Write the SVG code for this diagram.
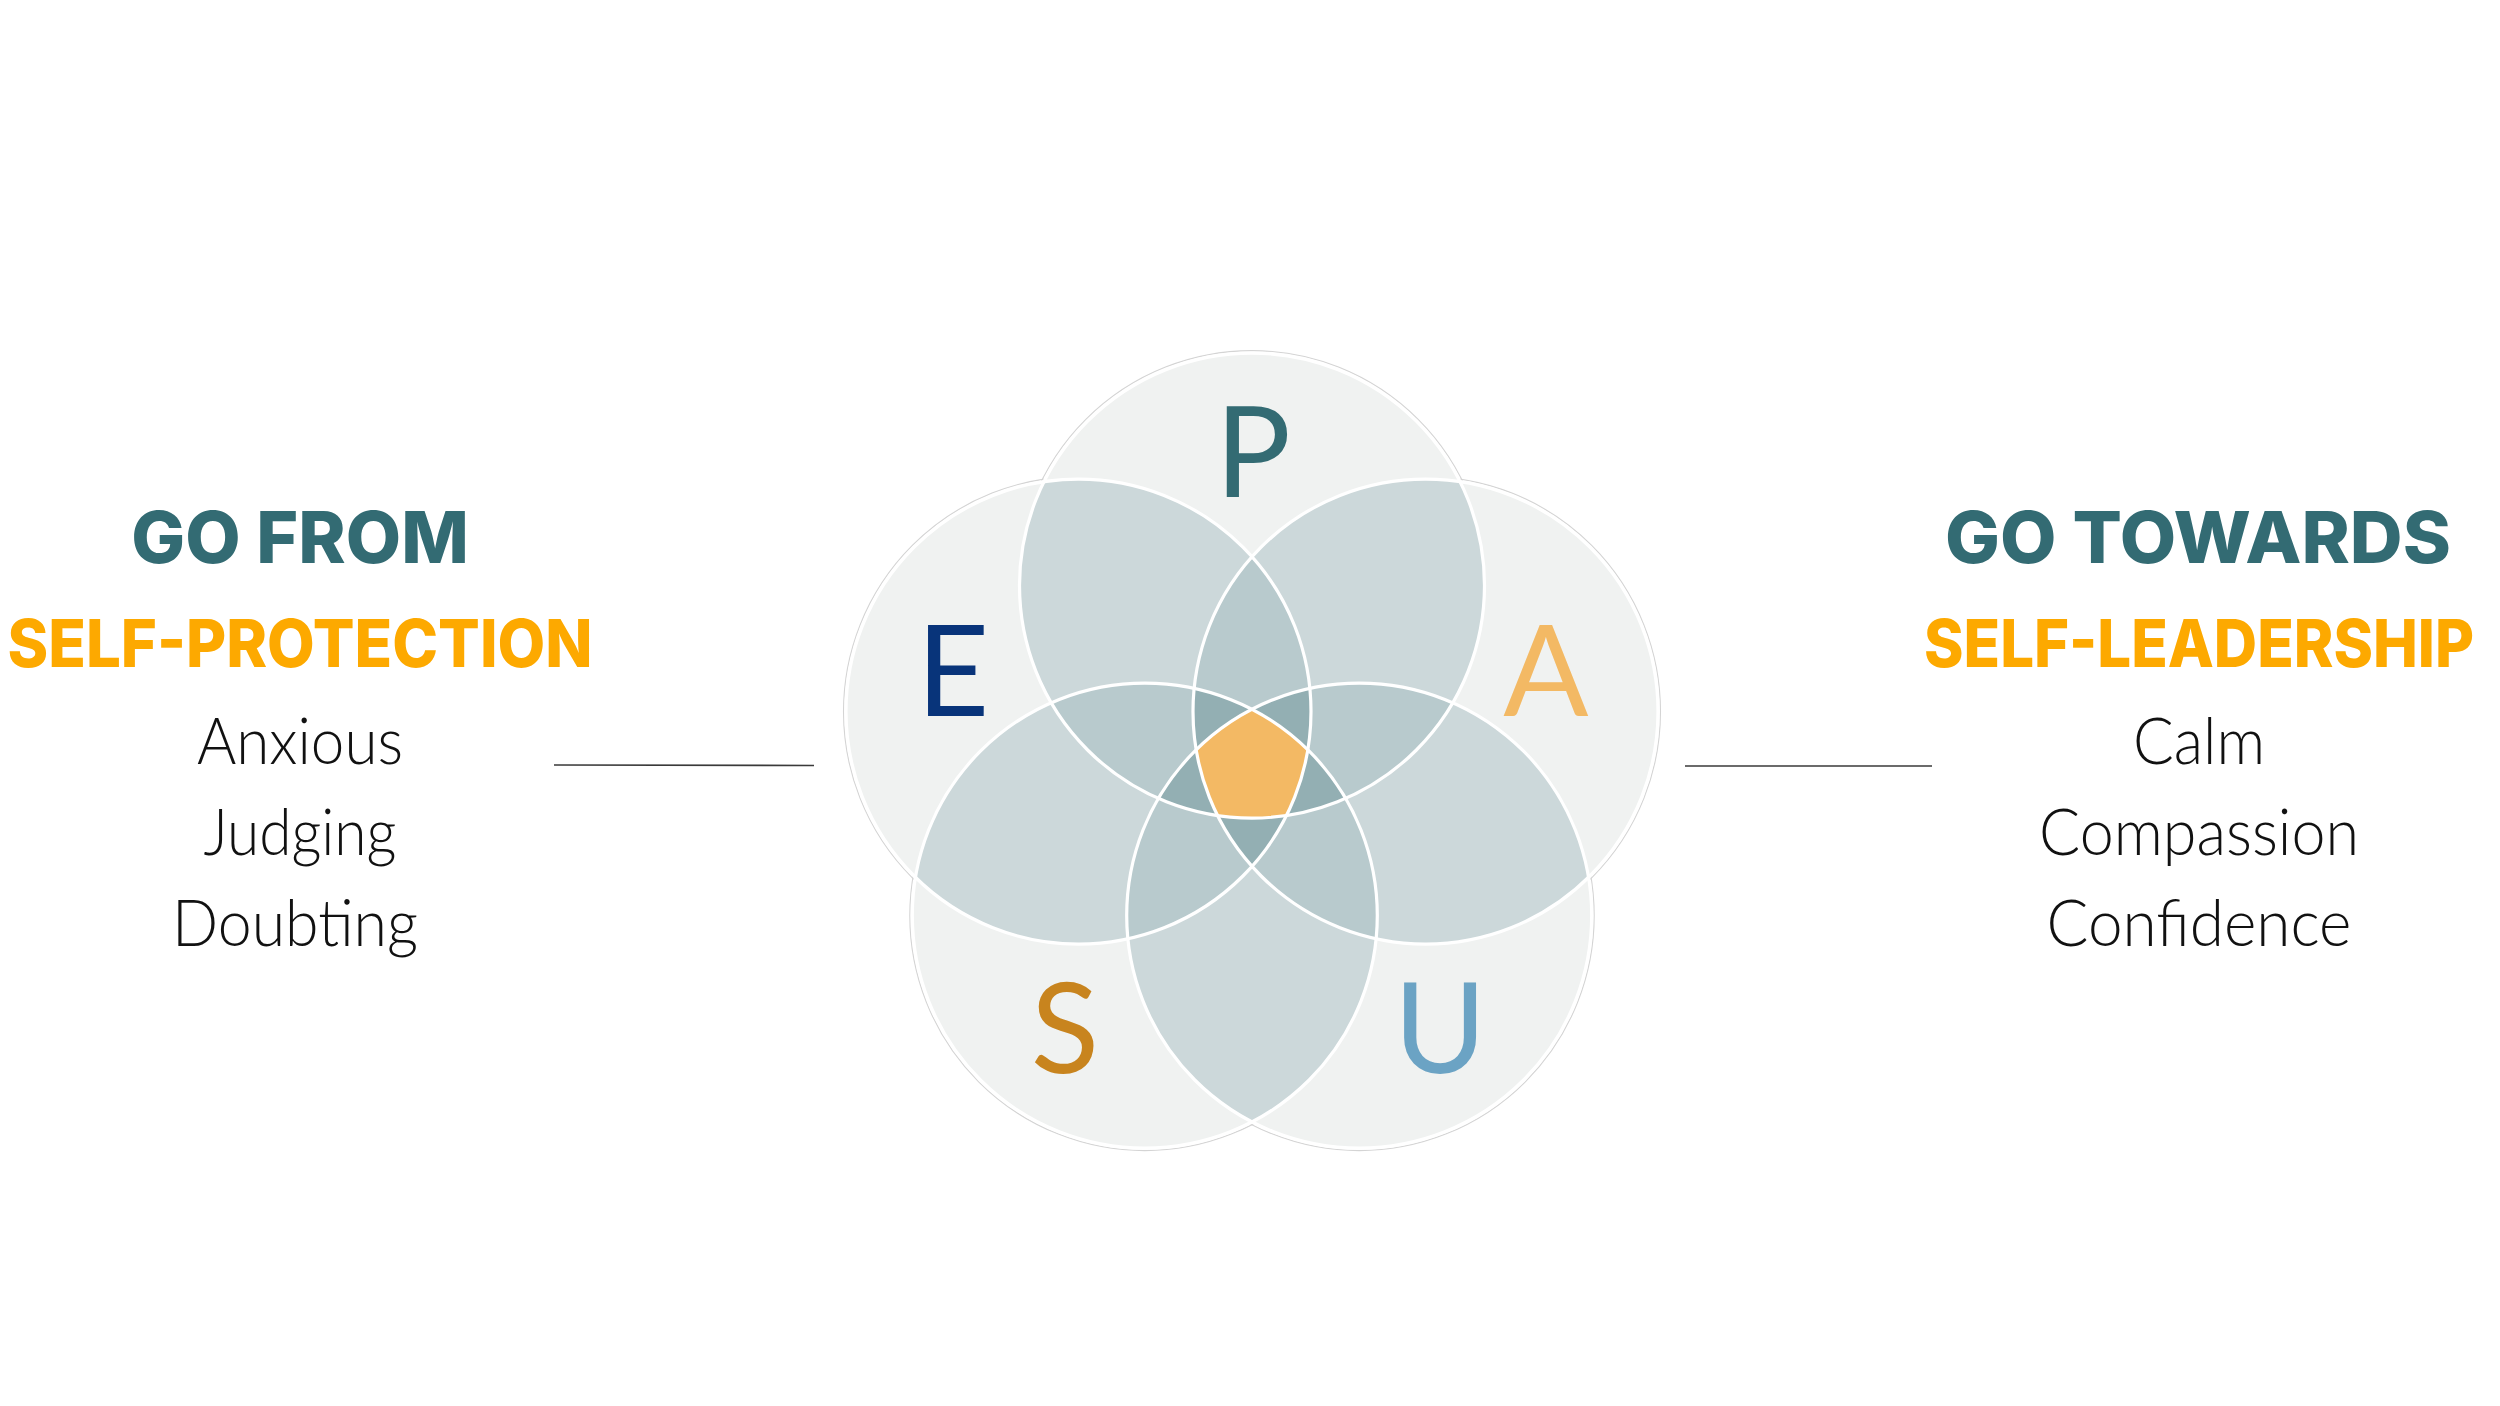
<svg xmlns="http://www.w3.org/2000/svg" xmlns:xlink="http://www.w3.org/1999/xlink" width="2500" height="1406" viewBox="0 0 2500 1406">
<style>
.f1{fill:#F0F2F1}
.f2{fill:#CCD8DA}
.f3{fill:#B8CACD}
.f4{fill:#93AFB3}
.f5{fill:#F3B964}
.ws{fill:none;stroke:#FFFFFF;stroke-width:3.2}
.ol{fill:none;stroke:#D4D4D4;stroke-width:1.1}
.letter{font-family:Lato,"Liberation Sans",sans-serif;font-weight:400;font-size:126px;text-anchor:middle}
.h1{font-family:Inter,"Liberation Sans",sans-serif;font-weight:800;font-size:72px;fill:#336B73;text-anchor:middle}
.h2{font-family:Inter,"Liberation Sans",sans-serif;font-weight:800;font-size:66px;fill:#FDA900;text-anchor:middle}
.body{font-family:Lato,"Liberation Sans",sans-serif;font-weight:300;font-size:66px;fill:#111111;text-anchor:middle}
.conn{stroke:#3A3A3A;stroke-width:1.6;fill:none}
</style>
<defs>
<circle id="cP" cx="1252" cy="585.6" r="232.5"/>
<circle id="cA" cx="1425.5" cy="711.6" r="232.5"/>
<circle id="cU" cx="1359.2" cy="915.6" r="232.5"/>
<circle id="cS" cx="1144.8" cy="915.6" r="232.5"/>
<circle id="cE" cx="1078.5" cy="711.6" r="232.5"/>
<clipPath id="kP"><use xlink:href="#cP"/></clipPath>
<clipPath id="kA"><use xlink:href="#cA"/></clipPath>
<clipPath id="kU"><use xlink:href="#cU"/></clipPath>
<clipPath id="kS"><use xlink:href="#cS"/></clipPath>
<clipPath id="kE"><use xlink:href="#cE"/></clipPath>
</defs>
<rect x="0" y="0" width="2500" height="1406" fill="#FFFFFF"/>

<g id="flower">
<g id="outlines">
<circle class="ol" cx="1252" cy="585.6" r="235"/>
<circle class="ol" cx="1425.5" cy="711.6" r="235"/>
<circle class="ol" cx="1359.2" cy="915.6" r="235"/>
<circle class="ol" cx="1144.8" cy="915.6" r="235"/>
<circle class="ol" cx="1078.5" cy="711.6" r="235"/>
</g>
<g id="base">
<use xlink:href="#cP" class="f1"/>
<use xlink:href="#cA" class="f1"/>
<use xlink:href="#cU" class="f1"/>
<use xlink:href="#cS" class="f1"/>
<use xlink:href="#cE" class="f1"/>
</g>
<g id="overlap2">
<g clip-path="url(#kP)"><use xlink:href="#cA" class="f2"/></g>
<g clip-path="url(#kP)"><use xlink:href="#cU" class="f2"/></g>
<g clip-path="url(#kP)"><use xlink:href="#cS" class="f2"/></g>
<g clip-path="url(#kP)"><use xlink:href="#cE" class="f2"/></g>
<g clip-path="url(#kA)"><use xlink:href="#cU" class="f2"/></g>
<g clip-path="url(#kA)"><use xlink:href="#cS" class="f2"/></g>
<g clip-path="url(#kA)"><use xlink:href="#cE" class="f2"/></g>
<g clip-path="url(#kU)"><use xlink:href="#cS" class="f2"/></g>
<g clip-path="url(#kU)"><use xlink:href="#cE" class="f2"/></g>
<g clip-path="url(#kS)"><use xlink:href="#cE" class="f2"/></g>
</g>
<g id="overlap3">
<g clip-path="url(#kP)"><g clip-path="url(#kA)"><use xlink:href="#cU" class="f3"/></g></g>
<g clip-path="url(#kP)"><g clip-path="url(#kA)"><use xlink:href="#cS" class="f3"/></g></g>
<g clip-path="url(#kP)"><g clip-path="url(#kA)"><use xlink:href="#cE" class="f3"/></g></g>
<g clip-path="url(#kP)"><g clip-path="url(#kU)"><use xlink:href="#cS" class="f3"/></g></g>
<g clip-path="url(#kP)"><g clip-path="url(#kU)"><use xlink:href="#cE" class="f3"/></g></g>
<g clip-path="url(#kP)"><g clip-path="url(#kS)"><use xlink:href="#cE" class="f3"/></g></g>
<g clip-path="url(#kA)"><g clip-path="url(#kU)"><use xlink:href="#cS" class="f3"/></g></g>
<g clip-path="url(#kA)"><g clip-path="url(#kU)"><use xlink:href="#cE" class="f3"/></g></g>
<g clip-path="url(#kA)"><g clip-path="url(#kS)"><use xlink:href="#cE" class="f3"/></g></g>
<g clip-path="url(#kU)"><g clip-path="url(#kS)"><use xlink:href="#cE" class="f3"/></g></g>
</g>
<g id="overlap4">
<g clip-path="url(#kP)"><g clip-path="url(#kA)"><g clip-path="url(#kU)"><use xlink:href="#cS" class="f4"/></g></g></g>
<g clip-path="url(#kP)"><g clip-path="url(#kA)"><g clip-path="url(#kU)"><use xlink:href="#cE" class="f4"/></g></g></g>
<g clip-path="url(#kP)"><g clip-path="url(#kA)"><g clip-path="url(#kS)"><use xlink:href="#cE" class="f4"/></g></g></g>
<g clip-path="url(#kP)"><g clip-path="url(#kU)"><g clip-path="url(#kS)"><use xlink:href="#cE" class="f4"/></g></g></g>
<g clip-path="url(#kA)"><g clip-path="url(#kU)"><g clip-path="url(#kS)"><use xlink:href="#cE" class="f4"/></g></g></g>
</g>
<g id="overlap5">
<g clip-path="url(#kP)"><g clip-path="url(#kA)"><g clip-path="url(#kU)"><g clip-path="url(#kS)"><use xlink:href="#cE" class="f5"/></g></g></g></g>
</g>
<g id="strokes">
<use xlink:href="#cP" class="ws"/>
<use xlink:href="#cA" class="ws"/>
<use xlink:href="#cU" class="ws"/>
<use xlink:href="#cS" class="ws"/>
<use xlink:href="#cE" class="ws"/>
</g>
</g>

<g id="node-P"><text class="letter" x="1253" y="497" fill="#336B73">P</text></g>
<g id="node-E"><text class="letter" x="953" y="716" fill="#08347A">E</text></g>
<g id="node-A"><text class="letter" x="1546" y="716" fill="#F3B964">A</text></g>
<g id="node-S"><text class="letter" x="1065" y="1073" fill="#C8841E">S</text></g>
<g id="node-U"><text class="letter" x="1440" y="1073" fill="#6BA3C4">U</text></g>

<g id="node-left">
<text class="h1" transform="translate(300,563) scale(0.9,1)" x="0" y="0" textLength="375" lengthAdjust="spacingAndGlyphs">GO FROM</text>
<text class="h2" transform="translate(300,667) scale(0.9,1)" x="0" y="0" textLength="650" lengthAdjust="spacingAndGlyphs">SELF-PROTECTION</text>
<text class="body" x="300" y="764" textLength="206" lengthAdjust="spacingAndGlyphs">Anxious</text>
<text class="body" x="300" y="855" textLength="193" lengthAdjust="spacingAndGlyphs">Judging</text>
<text class="body" x="295" y="946" textLength="246" lengthAdjust="spacingAndGlyphs">Doubting</text>
</g>

<g id="node-right">
<text class="h1" transform="translate(2198,563) scale(0.9,1)" x="0" y="0" textLength="562" lengthAdjust="spacingAndGlyphs">GO TOWARDS</text>
<text class="h2" transform="translate(2199,667) scale(0.9,1)" x="0" y="0" textLength="611" lengthAdjust="spacingAndGlyphs">SELF-LEADERSHIP</text>
<text class="body" x="2199" y="764" textLength="132" lengthAdjust="spacingAndGlyphs">Calm</text>
<text class="body" x="2199" y="855" textLength="320" lengthAdjust="spacingAndGlyphs">Compassion</text>
<text class="body" x="2199" y="946" textLength="305" lengthAdjust="spacingAndGlyphs">Confidence</text>
</g>

<g id="connectors">
<line class="conn" x1="554" y1="765" x2="814" y2="765.5"/>
<line class="conn" x1="1685" y1="766" x2="1932" y2="766"/>
</g>
</svg>
